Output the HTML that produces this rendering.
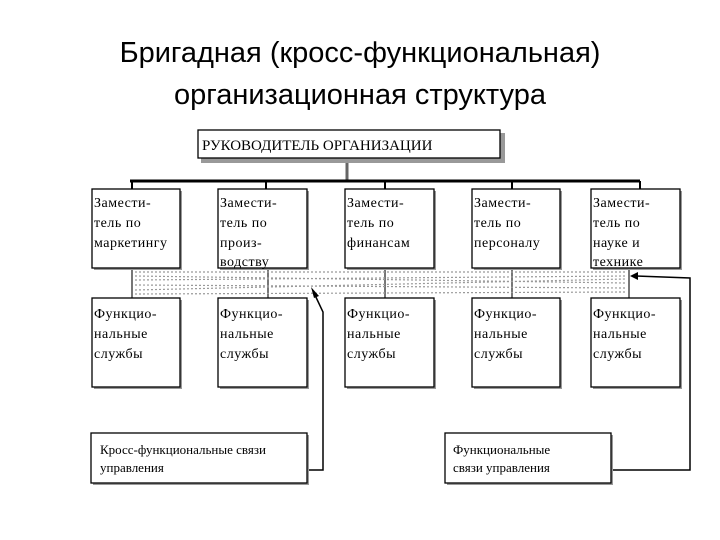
<!DOCTYPE html>
<html><head><meta charset="utf-8"><style>
html,body{margin:0;padding:0;background:#fff;width:720px;height:540px;overflow:hidden}
</style></head><body>
<svg width="720" height="540" xmlns="http://www.w3.org/2000/svg">
<text x="360" y="62" font-family="Liberation Sans, sans-serif" font-size="29" text-anchor="middle" fill="#000">Бригадная (кросс-функциональная)</text>
<text x="360" y="104" font-family="Liberation Sans, sans-serif" font-size="29" text-anchor="middle" fill="#000">организационная структура</text>
<g fill="none" stroke="#000" stroke-width="2">
<line x1="347" y1="160" x2="347" y2="181" stroke="#666" stroke-width="3"/>
<line x1="130" y1="181" x2="640" y2="181" stroke-width="3"/>
<line x1="132" y1="181" x2="132" y2="189"/><line x1="266" y1="181" x2="266" y2="189"/><line x1="385" y1="181" x2="385" y2="189"/><line x1="512" y1="181" x2="512" y2="189"/><line x1="640" y1="181" x2="640" y2="189"/>
<g stroke="#777" stroke-width="2">
<line x1="132" y1="268" x2="132" y2="298"/><line x1="268" y1="268" x2="268" y2="298"/><line x1="385" y1="268" x2="385" y2="298"/><line x1="512" y1="268" x2="512" y2="298"/><line x1="629" y1="268" x2="629" y2="298"/>
</g>
<g stroke="#999" stroke-width="1.2" stroke-dasharray="2 2">
<line x1="135" y1="272" x2="625" y2="272"/><line x1="135" y1="276" x2="625" y2="283"/><line x1="135" y1="280" x2="625" y2="276"/><line x1="135" y1="285" x2="625" y2="288"/><line x1="135" y1="290" x2="625" y2="279"/><line x1="135" y1="294" x2="625" y2="292"/>
</g>
<polyline points="307,470 323,470 323,312 314,293" stroke-width="1.5"/>
<polyline points="611,470 690,470 690,278 636,276" stroke-width="1.5"/>
</g>
<polygon points="311,287 319,296 314,298" fill="#000"/>
<polygon points="630,276 638,272 638,280" fill="#000"/>
<g fill="#999" stroke="none">
<rect x="201" y="133" width="304" height="30"/>
<rect x="94" y="191" width="88" height="79"/><rect x="220" y="191" width="89" height="79"/><rect x="347" y="191" width="89" height="79"/><rect x="474" y="191" width="88" height="79"/><rect x="593" y="191" width="89" height="79"/>
<rect x="94" y="300" width="88" height="89"/><rect x="220" y="300" width="89" height="89"/><rect x="347" y="300" width="89" height="89"/><rect x="474" y="300" width="88" height="89"/><rect x="593" y="300" width="89" height="89"/>
<rect x="93" y="435" width="216" height="50"/><rect x="447" y="435" width="166" height="50"/>
</g>
<g fill="#fff" stroke="#000" stroke-width="1.3">
<rect x="198" y="130" width="302" height="28"/>
<rect x="92" y="189" width="88" height="79"/><rect x="218" y="189" width="89" height="79"/><rect x="345" y="189" width="89" height="79"/><rect x="472" y="189" width="88" height="79"/><rect x="591" y="189" width="89" height="79"/>
<rect x="92" y="298" width="88" height="89"/><rect x="218" y="298" width="89" height="89"/><rect x="345" y="298" width="89" height="89"/><rect x="472" y="298" width="88" height="89"/><rect x="591" y="298" width="89" height="89"/>
<rect x="91" y="433" width="216" height="50"/><rect x="445" y="433" width="166" height="50"/>
</g>
<text x="202" y="150" font-family="Liberation Serif, serif" font-size="15">РУКОВОДИТЕЛЬ ОРГАНИЗАЦИИ</text>
<g font-family="Liberation Serif, serif" font-size="14" letter-spacing="0.5" fill="#000">
<text x="94" y="207">Замести-</text><text x="94" y="227">тель по</text><text x="94" y="247">маркетингу</text>
<text x="220" y="207">Замести-</text><text x="220" y="227">тель по</text><text x="220" y="247">произ-</text><text x="220" y="266">водству</text>
<text x="347" y="207">Замести-</text><text x="347" y="227">тель по</text><text x="347" y="247">финансам</text>
<text x="474" y="207">Замести-</text><text x="474" y="227">тель по</text><text x="474" y="247">персоналу</text>
<text x="593" y="207">Замести-</text><text x="593" y="227">тель по</text><text x="593" y="247">науке и</text><text x="593" y="266">технике</text>
<text x="94" y="318">Функцио-</text><text x="94" y="338">нальные</text><text x="94" y="358">службы</text>
<text x="220" y="318">Функцио-</text><text x="220" y="338">нальные</text><text x="220" y="358">службы</text>
<text x="347" y="318">Функцио-</text><text x="347" y="338">нальные</text><text x="347" y="358">службы</text>
<text x="474" y="318">Функцио-</text><text x="474" y="338">нальные</text><text x="474" y="358">службы</text>
<text x="593" y="318">Функцио-</text><text x="593" y="338">нальные</text><text x="593" y="358">службы</text>
</g>
<g font-family="Liberation Serif, serif" font-size="13" fill="#000">
<text x="100" y="454">Кросс-функциональные связи</text><text x="100" y="472">управления</text>
<text x="453" y="454">Функциональные</text><text x="453" y="472">связи управления</text>
</g>
</svg>
</body></html>
